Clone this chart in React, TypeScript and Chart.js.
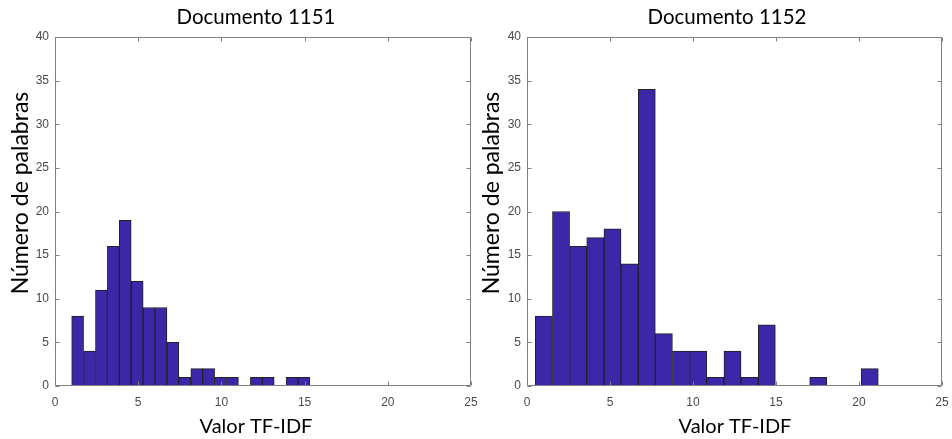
import React, { useEffect, useRef } from 'react';
import { Chart, registerables } from 'chart.js';

Chart.register(...registerables);

const xTickValues = [0, 5, 10, 15, 20, 25];
const yTickValues = [0, 5, 10, 15, 20, 25, 30, 35, 40];

const title1151 = 'Documento 1151';
const edges1151 = [1.0, 1.72, 2.43, 3.15, 3.86, 4.58, 5.3, 6.01, 6.73, 7.44, 8.16, 8.88, 9.59, 10.31, 11.02, 11.74, 12.46, 13.17, 13.89, 14.6, 15.32];
const counts1151 = [8, 4, 11, 16, 19, 12, 9, 9, 5, 1, 2, 2, 1, 1, 0, 1, 1, 0, 1, 1];

const title1152 = 'Documento 1152';
const edges1152 = [0.5, 1.53, 2.57, 3.6, 4.63, 5.67, 6.7, 7.73, 8.76, 9.8, 10.83, 11.86, 12.9, 13.93, 14.96, 15.99, 17.03, 18.06, 19.09, 20.13, 21.16];
const counts1152 = [8, 20, 16, 17, 18, 14, 34, 6, 4, 4, 1, 4, 1, 7, 0, 0, 1, 0, 0, 2];

const xLabel = 'Valor TF-IDF';
const yLabel = 'Número de palabras';

const BAR_COLOR = '#3b27a8';
const EDGE_COLOR = '#222222';
const BOX_COLOR = '#808080';
const TICK_TEXT = '#4a4a4a';
const LABEL_FONT = 'Lato, "Open Sans", sans-serif';
const TICK_FONT = '"Liberation Sans", Arial, sans-serif';

const boxTicks = {
  id: 'boxTicks',
  afterDatasetsDraw(chart: any) {
    const { ctx, chartArea, scales } = chart;
    const l = Math.round(chartArea.left) + 0.5;
    const r = Math.round(chartArea.right) - 0.5;
    const t = Math.round(chartArea.top) + 0.5;
    const b = Math.round(chartArea.bottom) - 0.5;
    const len = 4;
    ctx.save();
    ctx.strokeStyle = BOX_COLOR;
    ctx.lineWidth = 1;
    ctx.beginPath();
    ctx.rect(l, t, r - l, b - t);
    xTickValues.forEach((v) => {
      const px = Math.round(scales.x.getPixelForValue(v)) + 0.5;
      ctx.moveTo(px, b);
      ctx.lineTo(px, b - len);
      ctx.moveTo(px, t);
      ctx.lineTo(px, t + len);
    });
    yTickValues.forEach((v) => {
      const py = Math.round(scales.y.getPixelForValue(v)) + 0.5;
      ctx.moveTo(l, py);
      ctx.lineTo(l + len, py);
      ctx.moveTo(r, py);
      ctx.lineTo(r - len, py);
    });
    ctx.stroke();
    ctx.restore();
  },
};

type LabelPos = { titleX: number; xLabelX: number; yLabelX: number; yLabelY: number };

function makeLabels(title: string, pos: LabelPos) {
  return {
    id: 'axisLabels',
    afterDraw(chart: any) {
      const { ctx } = chart;
      ctx.save();
      ctx.fillStyle = '#000';
      ctx.textAlign = 'center';
      ctx.textBaseline = 'middle';
      ctx.font = `20.5px ${LABEL_FONT}`;
      ctx.fillText(title, pos.titleX, 17.6);
      ctx.font = `20px ${LABEL_FONT}`;
      ctx.fillText(xLabel, pos.xLabelX, 426.4);
      ctx.translate(pos.yLabelX, pos.yLabelY);
      ctx.rotate(-Math.PI / 2);
      ctx.font = `23px ${LABEL_FONT}`;
      ctx.fillText(yLabel, 0, 0);
      ctx.restore();
    },
  };
}

type HistProps = {
  edges: number[];
  counts: number[];
  title: string;
  left: number;
  width: number;
  yWidth: number;
  padRight: number;
  pos: LabelPos;
};

function Histogram({ edges, counts, title, left, width, yWidth, padRight, pos }: HistProps) {
  const ref = useRef<HTMLCanvasElement | null>(null);
  useEffect(() => {
    if (!ref.current) return;
    const points = counts.map((c, i) => ({ x: (edges[i] + edges[i + 1]) / 2, y: c }));
    const chart = new Chart(ref.current, {
      type: 'bar',
      data: {
        datasets: [
          {
            data: points,
            backgroundColor: BAR_COLOR,
            borderColor: EDGE_COLOR,
            borderWidth: (c: any) => (c.raw && c.raw.y === 0 ? 0 : 1),
            barPercentage: 1,
            categoryPercentage: 1,
            borderSkipped: false,
          } as any,
        ],
      },
      options: {
        responsive: false,
        animation: false,
        layout: { padding: { left: 0, right: padRight, top: 37, bottom: 0 } },
        plugins: {
          legend: { display: false },
          tooltip: { enabled: false },
          title: { display: false },
        },
        scales: {
          x: {
            type: 'linear',
            min: 0,
            max: 25,
            offset: false,
            grid: { display: false, drawTicks: false },
            border: { display: false },
            ticks: {
              stepSize: 5,
              padding: 9,
              color: TICK_TEXT,
              font: { family: TICK_FONT, size: 12 },
              maxRotation: 0,
            },
            title: { display: false },
            afterFit(scale: any) {
              scale.height = 53;
              scale.paddingLeft = 0;
              scale.paddingRight = 0;
            },
          },
          y: {
            type: 'linear',
            min: 0,
            max: 40,
            grid: { display: false, drawTicks: false },
            border: { display: false },
            ticks: {
              stepSize: 5,
              padding: 6,
              color: TICK_TEXT,
              font: { family: TICK_FONT, size: 12 },
            },
            title: { display: false },
            afterFit(scale: any) {
              scale.width = yWidth;
              scale.paddingTop = 0;
              scale.paddingBottom = 0;
            },
          },
        },
      } as any,
      plugins: [boxTicks, makeLabels(title, pos)],
    });
    return () => chart.destroy();
  }, []);
  return (
    <div style={{ position: 'absolute', left, top: 0, width, height: 439 }}>
      <canvas ref={ref} width={width} height={439} style={{ display: 'block' }} />
    </div>
  );
}

export default function App() {
  return (
    <div style={{ position: 'absolute', left: 0, top: 0, width: 952, height: 439, background: '#fff', overflow: 'hidden' }}>
      <Histogram
        edges={edges1151}
        counts={counts1151}
        title={title1151}
        left={0}
        width={484}
        yWidth={55}
        padRight={13}
        pos={{ titleX: 256, xLabelX: 256, yLabelX: 21, yLabelY: 193 }}
      />
      <Histogram
        edges={edges1152}
        counts={counts1152}
        title={title1152}
        left={476}
        width={476}
        yWidth={51}
        padRight={10}
        pos={{ titleX: 251, xLabelX: 259, yLabelX: 16, yLabelY: 193 }}
      />
    </div>
  );
}
